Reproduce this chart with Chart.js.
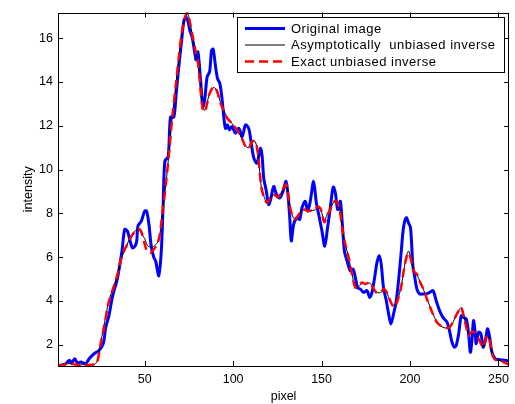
<!DOCTYPE html>
<html><head><meta charset="utf-8">
<script src="https://cdn.jsdelivr.net/npm/chart.js@4/dist/chart.umd.min.js"></script>
<style>html,body{margin:0;padding:0;background:#fff}#wrap{width:515px;height:404px}</style>
</head><body><div id="wrap"><canvas id="c" width="515" height="404"></canvas></div>
<script>
const xTicks = [50, 100, 150, 200, 250];
const yTicks = [2, 4, 6, 8, 10, 12, 14, 16];
const seriesNames = ["Original image", "Asymptotically  unbiased inverse", "Exact unbiased inverse"];

const originalX = [1,3,5,6.3,7.5,8.7,10.5,12,13.9,16.7,18.6,21.4,24.2,26.6,28,29.8,31.7,34.5,36,37.3,38.7,40.2,41.3,43,44.5,45.5,46.2,48.1,50,51.1,52.4,53.7,55.2,56.2,57.1,58,59.4,60.4,61.4,63.3,64.6,66.5,67.8,69.3,70.9,72.2,73.5,74.6,75.5,76.8,78.4,79.1,80.1,81.6,82.9,84,85.3,86.7,87.8,88.7,90.1,91.2,92.5,93.8,94.7,95.7,96.8,97.9,99.4,101.3,103.2,105.1,107,108.8,110.1,111.7,113.5,115.4,116.4,117.3,118.8,120.1,121.4,122.9,124.5,126.3,128.2,129.9,131,132,132.9,134.2,136.1,137.6,138.9,140.8,142.1,143.6,145.5,147,148.5,150.2,151.8,153.3,155,156.6,157.8,159.1,160.6,161.6,162.9,164.4,166.3,167.8,169.1,170.4,172,173.8,175.7,177.2,178.5,180,181.3,182.6,183.7,185,186.6,187.9,189.2,190.7,192.2,193.5,194.9,196.3,197.9,199.2,200.3,201.6,202.4,203.9,205.4,207.3,209.2,211.1,213,214.8,216.7,218.6,220.9,222.3,223.7,225,226.1,227.5,228.4,229,230.3,231.8,233.1,234.1,235,235.9,236.9,237.4,238.8,240.1,241.3,242.6,243.8,245,246.3,248.2,251,253.8,256];
const originalY = [1.03,1.08,1.12,1.21,1.29,1.17,1.36,1.16,1.21,1.14,1.36,1.59,1.74,2.05,2.8,3.33,4.16,5.0,5.68,6.36,7.27,7.19,6.89,6.43,6.5,6.74,7.42,7.64,8.1,8.1,7.5,6.5,5.98,5.83,5.45,5.15,6.28,8.3,10.37,10.6,12.4,12.4,13.47,14.7,15.9,16.8,16.95,16.73,16.35,16.05,15.29,15.0,15.37,14.08,12.87,13.24,14.23,14.46,15.44,15.5,14.68,14.15,13.93,13.17,12.41,11.88,12.04,11.81,11.96,11.66,11.88,11.5,12.04,11.88,11.28,10.52,10.29,10.97,10.6,9.61,9.0,8.4,8.7,9.23,8.86,8.7,9.0,9.46,8.86,7.8,6.74,7.5,7.8,7.72,8.25,8.55,8.1,8.55,9.46,8.5,7.9,7.2,6.5,7.3,8.3,9.2,8.93,8.18,8.55,7.65,6.28,5.83,5.37,5.45,5.07,4.61,4.54,4.39,4.47,4.16,4.39,5.07,5.75,6.06,5.68,4.61,4.01,3.41,2.95,3.41,4.01,4.92,6.13,7.34,7.8,7.55,7.34,5.6,5.22,4.54,4.32,4.32,4.32,4.39,4.47,4.01,3.56,3.25,3.03,2.65,2.12,1.89,1.97,2.5,3.1,3.33,3.25,3.18,2.5,1.66,2.2,3.1,2.5,2.05,2.57,2.5,1.89,2.2,2.73,2.35,1.66,1.36,1.32,1.29,1.26];

const exactX = [1,3.5,6.3,9.1,12,15,18,21.4,22.9,24.2,25.1,26.6,28,29.4,31.1,33,34.9,36.4,38.3,40.2,42.1,43.9,45.8,47.3,48.6,50,51.4,53.4,55.2,57.1,58.6,59.9,61.8,64.1,65.6,67.5,69.3,71.2,73.1,74.2,75.4,76.8,78.7,80.2,81.6,82.9,84,85.3,86.7,89.1,91,92.9,94.7,96.6,99.4,102.2,105.1,107,108.8,110.7,112.6,114.1,115,116,117.3,119.1,121,122.9,125.2,127,129,130.1,131.4,132.9,134.6,136.5,138.4,140.3,142.1,144,145.9,148,149.5,151.5,153,154.5,156.4,158.3,160.2,161.6,163.4,165.3,167.2,169.1,171,172.9,174.7,177.2,179.1,180.9,183.2,185.4,187.3,189.2,191.1,192.9,194.9,196.5,198,199.2,200.5,202,203.9,205.8,207.6,209.5,211.4,213.3,215.2,218,220.9,222.7,224.6,226.5,228,229,230.3,231.8,233.1,234.5,236.3,237.8,239.7,241.3,242.6,243.8,245,246.3,248.2,251,253.8,256];
const exactY = [1.1,1.06,1.16,1.12,1.08,1.1,1.08,1.1,1.16,1.59,2.05,2.65,3.25,3.86,4.32,4.77,5.3,5.83,6.28,6.59,6.89,7.11,7.27,7.27,7.04,6.59,6.28,6.2,6.36,6.59,7.04,7.95,9.2,11.05,12.41,13.77,15.14,16.35,17.03,17.18,16.8,16.2,15.44,14.83,13.63,12.72,12.64,13.02,13.47,13.78,13.55,13.02,12.7,12.35,12.1,11.8,11.4,11.05,10.97,11.28,11.28,10.67,9.92,9.16,8.78,8.48,8.7,8.86,8.73,8.93,9.23,9.31,8.7,8.02,7.72,7.87,8.1,8.18,8.1,8.13,8.15,8.3,8.2,7.6,7.9,8.1,8.48,8.55,8.18,7.34,6.59,5.98,5.22,4.61,4.69,4.84,4.77,4.84,4.61,4.39,4.39,4.54,4.32,3.93,3.71,4.01,4.61,5.4,6.0,6.2,5.9,5.37,5.22,4.84,4.54,4.09,3.71,3.33,3.03,2.83,2.77,2.83,3.1,3.41,3.63,3.71,3.33,2.8,2.42,2.57,2.57,2.42,2.12,1.89,2.2,2.42,2.2,1.59,1.32,1.29,1.17,1.1];

const asymX = [1,3.5,6.3,9.1,12,15,18,21.4,22.9,24.2,25.1,26.6,28,29.4,31.1,33,34.9,36.4,38.3,40.2,42.1,43.9,45.8,47.3,48.6,50,51.4,53.4,55.2,57.1,58.6,59.9,61.8,64.1,65.6,67.5,69.3,71.2,73.1,74.2,75.4,76.8,78.7,80.2,81.6,82.9,84,85.3,86.7,89.1,91,92.9,94.7,96.6,99.4,102.2,105.1,107,108.8,110.7,112.6,114.1,115,116,117.3,119.1,121,122.9,125.2,127,129,130.1,131.4,132.9,134.6,136.5,138.4,140.3,142.1,144,145.9,148,149.5,151.5,153,154.5,156.4,158.3,160.2,161.6,163.4,165.3,167.2,169.1,171,172.9,174.7,177.2,179.1,180.9,183.2,185.4,187.3,189.2,191.1,192.9,194.9,196.5,198,199.2,200.5,202,203.9,205.8,207.6,209.5,211.4,213.3,215.2,218,220.9,222.7,224.6,226.5,228,229,230.3,231.8,233.1,234.5,236.3,237.8,239.7,241.3,242.6,243.8,245,246.3,248.2,251,253.8,256];
const asymY = [1.08,1.07,1.14,1.11,1.08,1.09,1.08,1.1,1.2,1.62,2.08,2.7,3.3,3.9,4.35,4.8,5.3,5.8,6.25,6.6,6.95,7.15,7.25,7.2,7.0,6.85,6.55,6.45,6.5,6.65,7.05,7.95,9.2,11.05,12.41,13.77,15.14,16.35,17.0,17.12,16.8,16.2,15.44,14.83,13.65,12.8,12.7,13.05,13.47,13.75,13.55,13.05,12.72,12.38,12.1,11.82,11.42,11.08,10.99,11.26,11.26,10.66,9.92,9.16,8.8,8.5,8.7,8.85,8.75,8.92,9.2,9.28,8.72,8.05,7.75,7.88,8.08,8.16,8.1,8.12,8.15,8.27,8.18,7.65,7.92,8.1,8.45,8.52,8.2,7.36,6.6,5.98,5.25,4.58,4.66,4.82,4.78,4.82,4.62,4.4,4.38,4.5,4.3,3.9,3.8,4.05,4.62,5.4,6.05,6.28,5.92,5.4,5.2,4.85,4.52,4.1,3.72,3.35,3.05,2.82,2.76,2.82,3.08,3.4,3.62,3.7,3.35,2.82,2.55,2.57,2.57,2.45,2.15,1.9,2.15,2.4,2.2,1.62,1.34,1.28,1.18,1.12];

const FONT = 'Liberation Sans, Arial, Helvetica, sans-serif';

const frame = {
  id: 'frame',
  afterDatasetsDraw(chart) {
    const {ctx, chartArea: a, scales} = chart;
    ctx.save();
    ctx.strokeStyle = '#000';
    ctx.lineWidth = 1;
    ctx.strokeRect(Math.round(a.left) + 0.5, Math.round(a.top) + 0.5, Math.round(a.right - a.left) - 1, Math.round(a.bottom - a.top) - 1);
    const L = 5;
    ctx.beginPath();
    xTicks.forEach(v => {
      const px = Math.round(scales.x.getPixelForValue(v)) + 0.5;
      ctx.moveTo(px, a.bottom); ctx.lineTo(px, a.bottom - L);
      ctx.moveTo(px, a.top); ctx.lineTo(px, a.top + L);
    });
    yTicks.forEach(v => {
      const py = Math.round(scales.y.getPixelForValue(v)) + 0.5;
      ctx.moveTo(a.left, py); ctx.lineTo(a.left + L, py);
      ctx.moveTo(a.right, py); ctx.lineTo(a.right - L, py);
    });
    ctx.stroke();
    ctx.restore();
  },
  afterDraw(chart) {
    const ctx = chart.ctx;
    ctx.save();
    const bx = 237.5, by = 17.5, bw = 267, bh = 55;
    ctx.fillStyle = '#fff';
    ctx.fillRect(bx, by, bw, bh);
    ctx.strokeStyle = '#000'; ctx.lineWidth = 1;
    ctx.strokeRect(bx, by, bw, bh);
    const rows = [28.5, 45, 61.5];
    const styles = [
      {c: '#0000ff', w: 3, d: []},
      {c: '#000000', w: 1, d: []},
      {c: '#ff0000', w: 2.5, d: [9, 5]}
    ];
    ctx.font = '13px ' + FONT;
    try { ctx.letterSpacing = '0.5px'; } catch (e) {}
    ctx.textBaseline = 'middle';
    ctx.textAlign = 'left';
    rows.forEach((y, i) => {
      ctx.beginPath();
      ctx.strokeStyle = styles[i].c; ctx.lineWidth = styles[i].w;
      ctx.setLineDash(styles[i].d);
      ctx.moveTo(245, y); ctx.lineTo(285, y); ctx.stroke();
      ctx.setLineDash([]);
      ctx.fillStyle = '#000';
      ctx.fillText(seriesNames[i], 291, y + 0.5);
    });
    ctx.restore();
  }
};

const pts = (X, Y) => X.map((x, i) => ({x: x, y: Y[i]}));

new Chart(document.getElementById('c'), {
  type: 'line',
  data: {
    datasets: [
      {label: seriesNames[2], data: pts(exactX, exactY), borderColor: '#ff0000', borderWidth: 2.5, borderDash: [9, 5], pointRadius: 0, tension: 0.3, fill: false, order: 0},
      {label: seriesNames[1], data: pts(asymX, asymY), borderColor: '#000000', borderWidth: 1, pointRadius: 0, tension: 0.3, fill: false, order: 1},
      {label: seriesNames[0], data: pts(originalX, originalY), borderColor: '#0000ff', borderWidth: 3, pointRadius: 0, tension: 0.3, fill: false, order: 2}
    ]
  },
  options: {
    responsive: false,
    devicePixelRatio: 1,
    animation: false,
    layout: {padding: {top: 10, right: 4, left: 0, bottom: 0}},
    plugins: {legend: {display: false}, tooltip: {enabled: false}},
    scales: {
      x: {
        type: 'linear', min: 1, max: 256,
        afterBuildTicks: s => { s.ticks = xTicks.map(v => ({value: v})); },
        afterFit: s => { s.height = 38; },
        grid: {display: false, drawTicks: false},
        border: {display: false},
        ticks: {color: '#000', font: {family: FONT, size: 12.5}, padding: 6, maxRotation: 0, autoSkip: false},
        title: {display: true, text: 'pixel', color: '#000', font: {family: FONT, size: 12.5}, padding: {top: 0, bottom: 0}}
      },
      y: {
        type: 'linear', min: 1.03, max: 17.17,
        afterBuildTicks: s => { s.ticks = yTicks.map(v => ({value: v})); },
        afterFit: s => { s.width = 58; },
        grid: {display: false, drawTicks: false},
        border: {display: false},
        ticks: {color: '#000', font: {family: FONT, size: 12.5}, padding: 5, autoSkip: false},
        title: {display: true, text: 'intensity', color: '#000', font: {family: FONT, size: 12.5}, padding: {top: 21, bottom: 0}}
      }
    }
  },
  plugins: [frame]
});
</script>
</body></html>
